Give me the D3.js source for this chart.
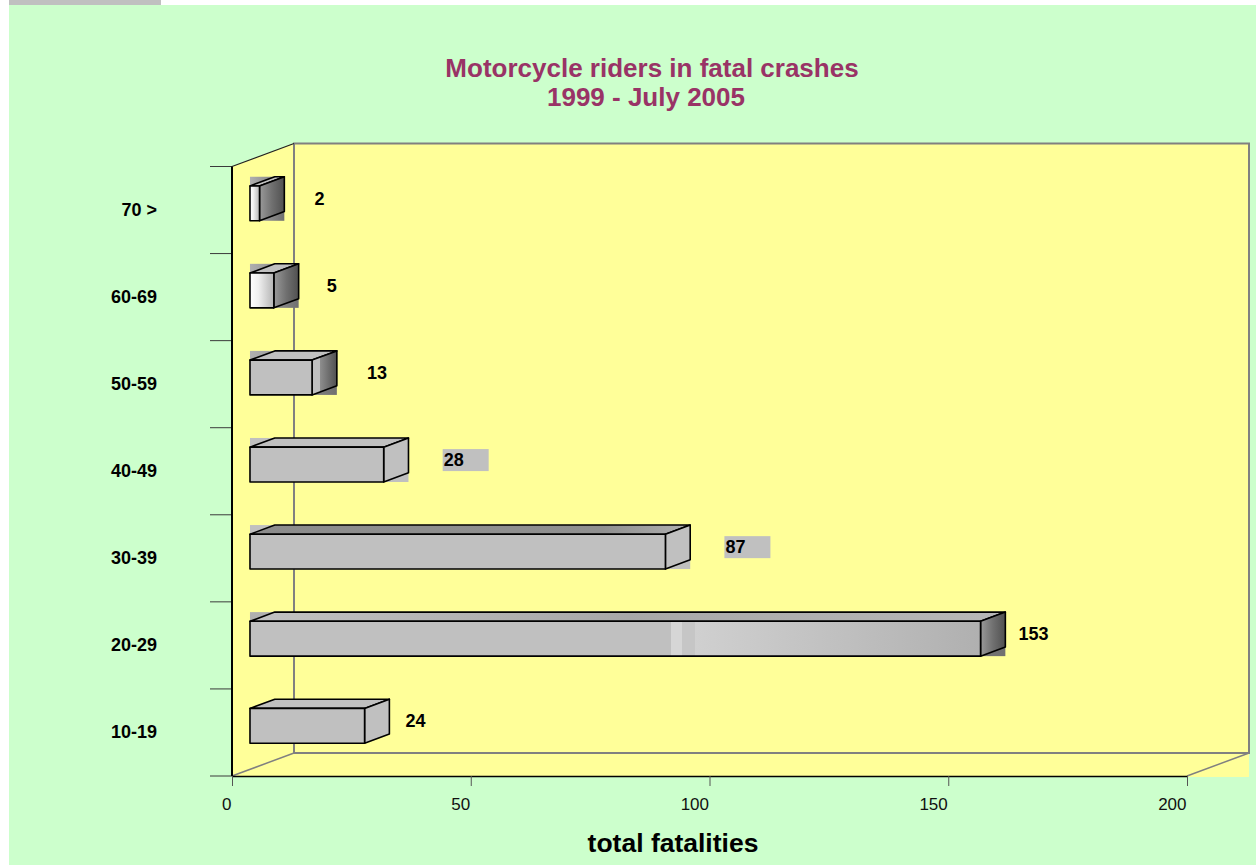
<!DOCTYPE html>
<html>
<head>
<meta charset="utf-8">
<script src="https://cdn.jsdelivr.net/npm/d3@7/dist/d3.min.js"></script>
<style>
  html, body { margin: 0; padding: 0; background: #ffffff; }
  svg { display: block; font-family: "Liberation Sans", Arial, sans-serif; }
</style>
</head>
<body>
<svg id="chart" width="1256" height="865"></svg>
<script>
// Age groups, bottom to top, and the number of riders killed in each
const categories = ["10-19", "20-29", "30-39", "40-49", "50-59", "60-69", "70 >"];
const fatalities = [24, 153, 87, 28, 13, 5, 2];
const xTicks = [0, 50, 100, 150, 200];
const titleLines = ["Motorcycle riders in fatal crashes", "1999 - July 2005"];
const axisTitle = "total fatalities";

// Per-bar face shading (front / side / top) and label placement tweaks
const frontStyle = ["flat", "streak", "flat", "flat", "flat", "light", "light"];
const sideStyle  = ["flat", "dark", "flat", "flat", "half", "dark", "dark"];
const topStyle   = ["flat", "shade", "dark", "flat", "flat", "flat", "flat"];
const boxBehind  = [false, true, true, true, true, true, true];
const labelGap   = [41, 38, 60, 60, 55, 53, 55];
const labelBox   = [false, false, true, true, false, false, false];

const svg = d3.select("#chart");
const W = 1256, H = 865;

// page background
svg.append("rect").attr("width", W).attr("height", H).attr("fill", "#ffffff");
svg.append("rect").attr("x", 9).attr("y", 0).attr("width", 152).attr("height", 5).attr("fill", "#c0c0c0");
svg.append("rect").attr("x", 9).attr("y", 5).attr("width", W - 9).attr("height", H - 5).attr("fill", "#ccffcc");

// gradients
const defs = svg.append("defs");
function grad(id, stops) {
  const g = defs.append("linearGradient").attr("id", id)
    .attr("x1", "0%").attr("y1", "0%").attr("x2", "100%").attr("y2", "0%");
  stops.forEach(([o, c]) => g.append("stop").attr("offset", o).attr("stop-color", c));
}
grad("frontLight", [[0, "#ffffff"], [0.35, "#f0f0f0"], [1, "#b4b4b4"]]);
grad("frontStreak", [[0, "#c0c0c0"], [0.576, "#c0c0c0"], [0.576, "#d6d6d6"], [0.592, "#d6d6d6"],
  [0.592, "#c6c6c6"], [0.609, "#c6c6c6"], [0.609, "#d0d0d0"], [1, "#b0b0b0"]]);
grad("sideDark", [[0, "#9a9a9a"], [0.5, "#707070"], [1, "#505050"]]);
grad("sideHalf", [[0, "#c0c0c0"], [0.3, "#c0c0c0"], [0.32, "#8e8e8e"], [1, "#505050"]]);
grad("topShade", [[0, "#c2c2c2"], [0.5, "#a8a8a8"], [1, "#b8b8b8"]]);
grad("topDark", [[0, "#8c8c8c"], [0.8, "#909090"], [1, "#b0b0b0"]]);
grad("boxDark", [[0, "#b0b0b0"], [1, "#707070"]]);

const fills = {
  front: { flat: "#c0c0c0", light: "url(#frontLight)", streak: "url(#frontStreak)" },
  side:  { flat: "#c0c0c0", dark: "url(#sideDark)", half: "url(#sideHalf)" },
  top:   { flat: "#c0c0c0", shade: "url(#topShade)", dark: "url(#topDark)" }
};

// scales on the front plane, plus an oblique depth offset
const x = d3.scaleLinear().domain([0, 200]).range([232, 1187]);
const y = d3.scaleBand().domain(categories.slice().reverse())
  .range([166.5, 776]).paddingInner(0.6).paddingOuter(0.3);
const DX = 62, DY = 23;          // full depth of the floor
const zFront = 0.29, zBack = 0.69; // bar depth slot
const p = (px, py, z) => [px + z * DX, py - z * DY];

const yTop = 166.5, yBot = 776, x0 = x(0), x1 = x(200);

// walls and floor
const wallFill = "#ffff99";
svg.append("path")
  .attr("d", d3.line()([[x0, yTop], p(x0, yTop, 1), [x1 + DX, yTop - DY], [x1 + DX, yBot + 1], [x0, yBot + 1]]) + "Z")
  .attr("fill", wallFill);
svg.append("rect")
  .attr("x", x0 + DX).attr("y", yTop - DY)
  .attr("width", x1 - x0).attr("height", yBot - yTop)
  .attr("fill", wallFill).attr("stroke", "#808080").attr("stroke-width", 2);
// floor depth edges
svg.append("line").attr("x1", x0).attr("y1", yBot).attr("x2", x0 + DX).attr("y2", yBot - DY)
  .attr("stroke", "#808080").attr("stroke-width", 1.5);
svg.append("line").attr("x1", x1).attr("y1", yBot).attr("x2", x1 + DX).attr("y2", yBot - DY)
  .attr("stroke", "#808080").attr("stroke-width", 1.5);
// side wall top edge
svg.append("line").attr("x1", x0).attr("y1", yTop).attr("x2", x0 + DX).attr("y2", yTop - DY)
  .attr("stroke", "#222").attr("stroke-width", 1.2);

// category axis: tick marks at band boundaries and labels
const bounds = d3.range(categories.length + 1).map(i => yTop + i * y.step());
svg.append("g").selectAll("line").data(bounds).join("line")
  .attr("x1", 210).attr("x2", x0).attr("y1", d => d).attr("y2", d => d)
  .attr("stroke", "#3a3a3a").attr("stroke-width", 1);
svg.append("line").attr("x1", x0).attr("x2", x0).attr("y1", yTop).attr("y2", yBot)
  .attr("stroke", "#000").attr("stroke-width", 2);
svg.append("g").selectAll("text").data(categories).join("text")
  .attr("x", 157).attr("y", d => y(d) + y.bandwidth() / 2)
  .attr("text-anchor", "end").attr("dominant-baseline", "central")
  .attr("font-size", 18).attr("font-weight", "bold").attr("fill", "#000")
  .text(d => d);

// value axis
const xAxis = svg.append("g").attr("transform", `translate(0,${yBot})`)
  .call(d3.axisBottom(x).tickValues(xTicks).tickSize(10).tickSizeOuter(0).tickPadding(12));
xAxis.select(".domain").attr("stroke", "#000").attr("stroke-width", 1.5);
xAxis.selectAll(".tick line").attr("stroke", "#555");
xAxis.selectAll(".tick text").attr("text-anchor", "end").attr("dx", "-1")
  .attr("font-size", 17).attr("fill", "#111").attr("font-family", "Liberation Sans, Arial, sans-serif");

// bars
const bars = svg.append("g");
categories.forEach((c, i) => {
  const v = fatalities[i];
  const fy0 = y(c), fy1 = y(c) + y.bandwidth();
  const [ax, ay] = p(x(0), fy0, zFront);
  const [bx, by] = p(x(v), fy1, zFront);
  const ddx = (zBack - zFront) * DX, ddy = (zBack - zFront) * DY;
  const g = bars.append("g");
  if (boxBehind[i]) {
    g.append("rect").attr("x", ax).attr("y", ay - ddy)
      .attr("width", bx - ax + ddx).attr("height", by - ay + ddy)
      .attr("fill", sideStyle[i] === "flat" ? "#c0c0c0" : "url(#boxDark)");
  }
  const stroke = { stroke: "#000", "stroke-width": 1.6, "stroke-linejoin": "round" };
  const top = g.append("path")
    .attr("d", d3.line()([[ax, ay], [ax + ddx, ay - ddy], [bx + ddx, ay - ddy], [bx, ay]]) + "Z")
    .attr("fill", fills.top[topStyle[i]]);
  const side = g.append("path")
    .attr("d", d3.line()([[bx, ay], [bx + ddx, ay - ddy], [bx + ddx, by - ddy], [bx, by]]) + "Z")
    .attr("fill", fills.side[sideStyle[i]]);
  const front = g.append("rect").attr("x", ax).attr("y", ay)
    .attr("width", bx - ax).attr("height", by - ay)
    .attr("fill", fills.front[frontStyle[i]]);
  [top, side, front].forEach(s => Object.entries(stroke).forEach(([k, val]) => s.attr(k, val)));

  // value label
  const lx = bx + labelGap[i], ly = (ay + by) / 2 - 4.5;
  if (labelBox[i]) {
    g.append("rect").attr("x", lx - 1).attr("y", ly - 11).attr("width", 46).attr("height", 22)
      .attr("fill", "#c0c0c0");
  }
  g.append("text").attr("x", lx).attr("y", ly).attr("dominant-baseline", "central")
    .attr("font-size", 18).attr("font-weight", "bold").attr("fill", "#000")
    .text(v);
});

// titles
svg.append("text").attr("x", 652).attr("y", 77).attr("text-anchor", "middle")
  .attr("font-size", 26).attr("font-weight", "bold").attr("fill", "#993366").text(titleLines[0]);
svg.append("text").attr("x", 646).attr("y", 106).attr("text-anchor", "middle")
  .attr("font-size", 26).attr("font-weight", "bold").attr("fill", "#993366").text(titleLines[1]);
svg.append("text").attr("x", 673).attr("y", 852).attr("text-anchor", "middle")
  .attr("font-size", 26.5).attr("font-weight", "bold").attr("fill", "#000").text(axisTitle);
</script>
</body>
</html>
